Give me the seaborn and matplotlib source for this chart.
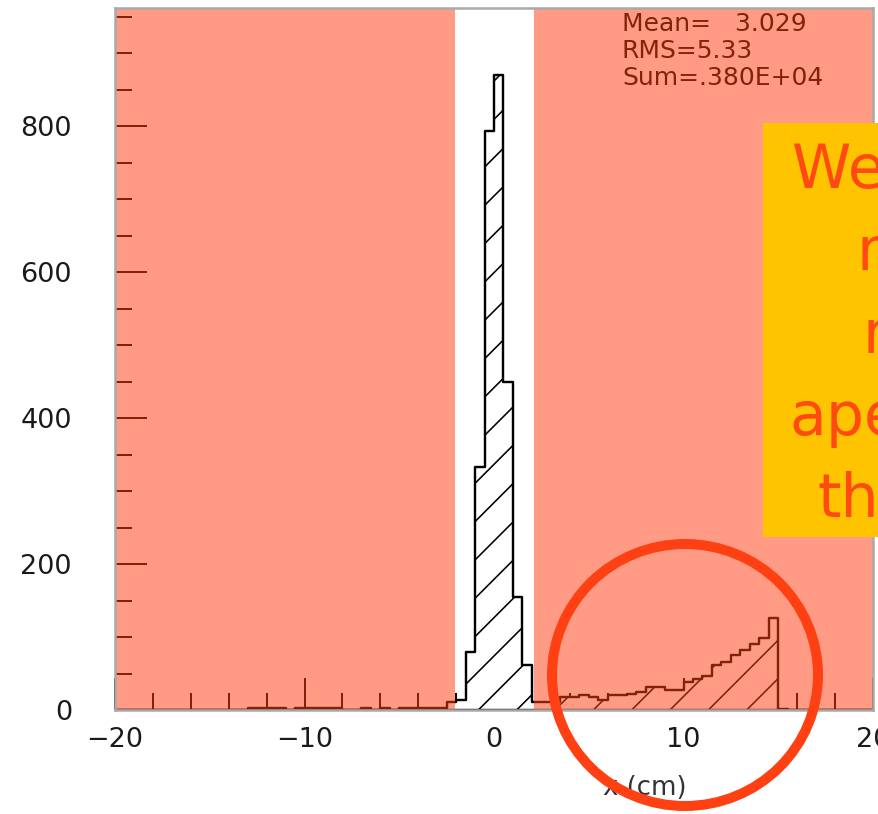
import numpy as np
import pandas as pd
import matplotlib
matplotlib.use('Agg')
import matplotlib.pyplot as plt
from matplotlib.patches import Ellipse, Rectangle
from matplotlib.ticker import MultipleLocator
import seaborn as sns

DPI = 230
W, H = 878, 814


def pt(px):
    # sizes in pixels; turn them into points
    return px * 72 / DPI


# histogram: left edge of each filled 0.5 cm bin and its count
bin_width = 0.5
bin_left = [-13.0, -12.5, -12.0, -11.5, -10.5, -10.0, -9.5, -9.0, -8.5,
            -7.0, -6.0, -5.0, -4.5, -4.0, -3.5, -3.0, -2.5,
            -2.0, -1.5, -1.0, -0.5, 0.0, 0.5, 1.0, 1.5,
            2.0, 2.5, 3.0, 3.5, 4.0, 4.5, 5.0, 5.5, 6.0, 6.5,
            7.0, 7.5, 8.0, 8.5, 9.0, 9.5, 10.0, 10.5, 11.0, 11.5,
            12.0, 12.5, 13.0, 13.5, 14.0, 14.5, 15.0]
counts = [3, 3, 3, 3, 3, 3, 3, 3, 3,
          3, 3, 3, 3, 3, 3, 3, 11,
          14, 80, 333, 793, 870, 449, 155, 62,
          11, 11, 11, 18, 18, 20, 18, 14, 20, 20,
          22, 25, 32, 32, 27, 27, 39, 42, 46, 62,
          66, 75, 82, 91, 98, 126, 2]

x_range = (-20, 20)
y_top = 962
stats_lines = ['Mean=   3.029', 'RMS=5.33', 'Sum=.380E+04']
x_title = 'x (cm)'
note_bits = ['We', 'm', 'r', 'ape', 'th']

sns.set_style('white')
plt.rcParams['font.family'] = ['DejaVu Sans']
plt.rcParams['hatch.color'] = 'black'
plt.rcParams['hatch.linewidth'] = pt(1.6)

fig = plt.figure(figsize=(W / DPI, H / DPI), dpi=DPI)
ax = fig.add_axes([115 / W, 1 - 710 / H, 758 / W, 702 / H])

df = pd.DataFrame({'x': np.array(bin_left) + bin_width / 2, 'n': counts})
edges = np.arange(x_range[0], x_range[1] + bin_width / 2, bin_width).tolist()
sns.histplot(data=df, x='x', weights='n', bins=edges,
             element='step', fill=True, alpha=1, facecolor='white',
             edgecolor='black', linewidth=pt(2.4), hatch='//', ax=ax)

ax.set_xlim(*x_range)
ax.set_ylim(0, y_top)
ax.set_ylabel('')

# the salmon cover laid over the plot, leaving a gap round zero
for lo, hi in [(x_range[0], -2.05), (2.1, x_range[1])]:
    ax.axvspan(lo, hi, color='#FF4013', alpha=0.52, lw=0, zorder=3)

ax.xaxis.set_major_locator(MultipleLocator(10))
ax.xaxis.set_minor_locator(MultipleLocator(2))
ax.yaxis.set_major_locator(MultipleLocator(200))
ax.yaxis.set_minor_locator(MultipleLocator(50))
ax.tick_params(which='both', direction='in', top=False, right=False,
               bottom=True, left=True,
               width=pt(2), color='black', labelcolor='#1a1a1a')
ax.tick_params(which='major', length=pt(32))
ax.tick_params(which='minor', length=pt(17))
ax.tick_params(axis='x', which='major', pad=pt(17), labelsize=pt(27))
ax.tick_params(axis='y', which='major', pad=pt(43), labelsize=pt(27))

for s in ax.spines.values():
    s.set_visible(True)
    s.set_color('#a9a9a9')
    s.set_linewidth(pt(2.5))
    s.set_zorder(4)

ax.set_xlabel(x_title, fontsize=pt(26), color='#333333')
ax.xaxis.set_label_coords((687 - 115) / 758, (710 - 788) / 702)
ax.xaxis.label.set_ha('right')
ax.xaxis.label.set_va('center')

# stats box sits under the cover, so it comes out dark red
for i, line in enumerate(stats_lines):
    ax.text(622 / W, 1 - (12 + 27 * i) / H, line, transform=fig.transFigure,
            fontsize=pt(25), color='black', va='top', ha='left', zorder=2)

# yellow call-out, cut off by the right edge
fig.add_artist(Rectangle((763 / W, 1 - 537 / H), (W - 763) / W, (537 - 123) / H,
                         transform=fig.transFigure, color='#FFC400', lw=0, zorder=5))
note_x = [792, 857, 862, 789, 817]
for i, bit in enumerate(note_bits):
    fig.text(note_x[i] / W, 1 - (188 + 82.3 * i) / H, bit, fontsize=pt(60),
             color='#FF4A12', va='baseline', ha='left', zorder=6)

# red ring round the tail
fig.add_artist(Ellipse((685 / W, 1 - 675 / H), width=266 / W, height=262 / H,
                       transform=fig.transFigure, fill=False,
                       edgecolor='#FF4013', linewidth=pt(10), zorder=7))

fig.savefig('out.png', dpi=DPI)
